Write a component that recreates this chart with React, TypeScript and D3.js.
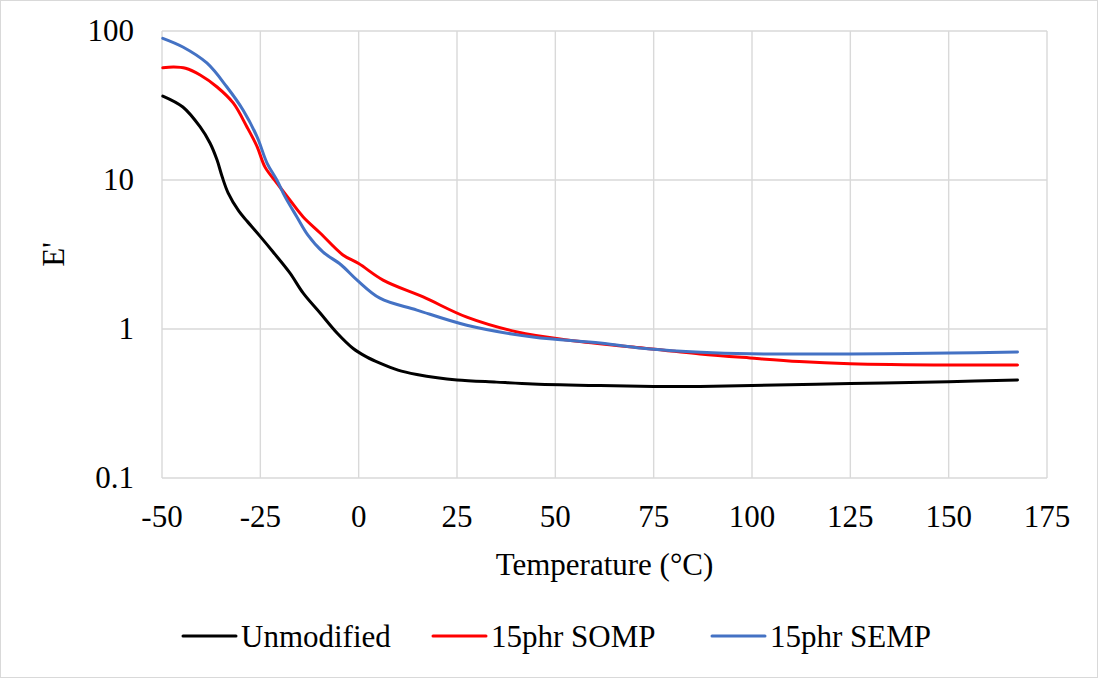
import React from "react";
import * as d3 from "d3";

const xTicks = [-50, -25, 0, 25, 50, 75, 100, 125, 150, 175];
const yTicks = [0.1, 1, 10, 100];
const yTickLabels = ["0.1", "1", "10", "100"];

const unmodT = [-49.8, -44.7, -40.3, -37.8, -36.0, -34.7, -33.2, -30.5, -28.4, -25.1, -21.8, -17.5, -14.1, -9.8, -5.5, -1.4, 2, 5.4, 10, 14.8, 20, 25, 35, 44.3, 61.4, 75, 86.8, 100, 125, 150, 167.5];
const unmodE = [36.6, 30.9, 22.7, 17.7, 13.6, 10.5, 8.2, 6.2, 5.3, 4.2, 3.3, 2.38, 1.74, 1.28, 0.94, 0.74, 0.65, 0.59, 0.53, 0.495, 0.47, 0.455, 0.44, 0.428, 0.417, 0.412, 0.412, 0.418, 0.43, 0.443, 0.455];

const sompT = [-49.8, -47, -44, -40.3, -36.0, -31.9, -28.4, -25.8, -23.8, -20.8, -17.5, -14.1, -9.8, -4.0, 0, 6.2, 16.4, 27.5, 40.3, 53.0, 69.8, 86.8, 99.5, 112, 124.9, 150.4, 167.5];
const sompE = [56.6, 57.3, 56.2, 50.7, 42.1, 32.9, 22.7, 16.7, 12.2, 9.55, 7.34, 5.65, 4.41, 3.14, 2.75, 2.13, 1.64, 1.2, 0.955, 0.844, 0.757, 0.68, 0.639, 0.605, 0.585, 0.573, 0.573];

const sempT = [-49.8, -44.7, -38.6, -33.5, -29.4, -25.8, -23.3, -20.8, -18.7, -15.7, -12.9, -9.1, -4.5, -0.4, 5.4, 14.8, 27.5, 44.3, 61.4, 74.1, 87, 99.5, 124.9, 150.4, 167.5];
const sempE = [89.3, 78.1, 61.0, 42.1, 29.5, 19.4, 13.0, 10.0, 7.7, 5.65, 4.27, 3.29, 2.7, 2.13, 1.61, 1.34, 1.06, 0.883, 0.805, 0.734, 0.698, 0.682, 0.68, 0.69, 0.701];

const seriesNames = ["Unmodified", "15phr SOMP", "15phr SEMP"];
const seriesColors = ["#000000", "#FF0000", "#4472C4"];

const W = 1098;
const H = 678;
const FONT = "'Times New Roman', 'Liberation Serif', serif";

export default function App() {
  const x = d3.scaleLinear().domain([-50, 175]).range([162, 1047]);
  const y = d3.scaleLog().domain([0.1, 100]).range([478, 31]);

  const series = [
    { name: seriesNames[0], color: seriesColors[0], t: unmodT, e: unmodE },
    { name: seriesNames[1], color: seriesColors[1], t: sompT, e: sompE },
    { name: seriesNames[2], color: seriesColors[2], t: sempT, e: sempE },
  ];

  const line = d3
    .line<[number, number]>()
    .x((d) => x(d[0]))
    .y((d) => y(d[1]))
    .curve(d3.curveCatmullRom.alpha(0.5));

  const legendLineX = [183, 433, 712];

  return (
    <div style={{ position: "fixed", left: 0, top: 0 }}>
      <svg width={W} height={H} style={{ display: "block", background: "#fff" }}>
        <rect x={0.5} y={0.5} width={W - 1} height={H - 1} fill="#fff" stroke="#D9D9D9" strokeWidth={1} />
        {xTicks.map((t) => (
          <line key={"gx" + t} x1={x(t)} x2={x(t)} y1={y(100)} y2={y(0.1)} stroke="#D9D9D9" strokeWidth={1.4} />
        ))}
        {yTicks.map((t) => (
          <line key={"gy" + t} x1={x(-50)} x2={x(175)} y1={y(t)} y2={y(t)} stroke="#D9D9D9" strokeWidth={1.4} />
        ))}
        {xTicks.map((t) => (
          <text key={"tx" + t} x={x(t)} y={527} textAnchor="middle" fontFamily={FONT} fontSize={31} fill="#000">
            {String(t)}
          </text>
        ))}
        {yTicks.map((t, i) => (
          <text key={"ty" + t} x={134} y={y(t) + 10} textAnchor="end" fontFamily={FONT} fontSize={31} fill="#000">
            {yTickLabels[i]}
          </text>
        ))}
        <text x={(x(-50) + x(175)) / 2} y={575} textAnchor="middle" fontFamily={FONT} fontSize={31} fill="#000">
          Temperature (°C)
        </text>
        <text
          transform={`translate(64, ${(y(100) + y(0.1)) / 2}) rotate(-90)`}
          textAnchor="middle"
          fontFamily={FONT}
          fontSize={31}
          fill="#000"
        >
          E'
        </text>
        {series.map((s) => (
          <path
            key={s.name}
            d={line(s.t.map((t, i) => [t, s.e[i]] as [number, number])) || ""}
            fill="none"
            stroke={s.color}
            strokeWidth={3}
            strokeLinejoin="round"
            strokeLinecap="round"
          />
        ))}
        {series.map((s, i) => (
          <g key={"lg" + s.name}>
            <line x1={legendLineX[i]} x2={legendLineX[i] + 53} y1={636} y2={636} stroke={s.color} strokeWidth={3} strokeLinecap="round" />
            <text x={legendLineX[i] + 58} y={647} fontFamily={FONT} fontSize={31} fill="#000">
              {s.name}
            </text>
          </g>
        ))}
      </svg>
    </div>
  );
}
